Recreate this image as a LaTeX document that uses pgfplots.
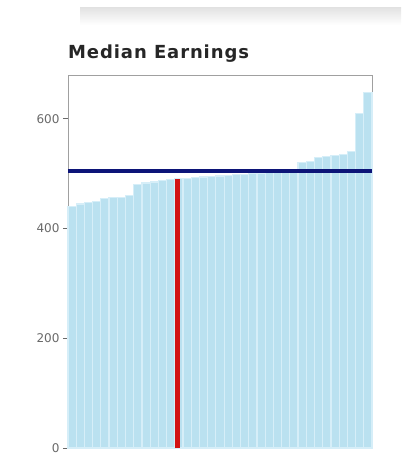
\documentclass[border=0pt]{standalone}
\usepackage{pgfplots}
\pgfplotsset{compat=1.18}
\usepackage{fontspec}
\setmainfont{DejaVu Sans}
\newfontfamily\titlefont[LetterSpace=5]{DejaVu Sans}
\definecolor{barblue}{RGB}{186,225,240}
\definecolor{gapblue}{RGB}{214,238,248}
\definecolor{navyline}{RGB}{12,20,120}
\definecolor{redline}{RGB}{210,18,18}
\definecolor{ticklab}{RGB}{105,105,105}
\definecolor{framegray}{RGB}{160,160,160}
\pgfplotstableread{
x y
0 440
1 445
2 448
3 450
4 455
5 456
6 457
7 460
8 480
9 483
10 485
11 487
12 489
13 491
14 492
15 493
16 494
17 495
18 496
19 497
20 498
21 499
22 500
23 501
24 502
25 503
26 505
27 508
28 520
29 522
30 530
31 532
32 533
33 535
34 540
35 610
36 648
}\bars
\begin{document}
\begin{tikzpicture}
\begin{axis}[
  name=ax,
  scale only axis,
  width=304pt, height=373pt,
  xmin=-0.5, xmax=36.5,
  ymin=0, ymax=680,
  ytick={0,200,400,600},
  ytick pos=left,
  xtick=\empty,
  axis line style={framegray, line width=0.8pt},
  ytick style={ticklab, line width=0.8pt},
  tick align=outside,
  major tick length=5pt,
  yticklabel style={font=\fontsize{12}{14}\selectfont, text=ticklab},
  /pgf/number format/assume math mode=true,
  clip=false,
]
\addplot[ybar, bar width=1, fill=barblue, draw=gapblue, line width=1.2pt] table[x=x,y=y] {\bars};
\addplot[navyline, line width=4.5pt, forget plot] coordinates {(-0.5,505) (36.5,505)};
\addplot[redline, line width=4.5pt, forget plot] coordinates {(12.8,0) (12.8,491)};
\end{axis}
\shade[top color=gray!22, bottom color=white] ([shift={(12pt,67pt)}]ax.north west) rectangle ([shift={(29pt,50pt)}]ax.north east);
\node[anchor=base west, inner sep=0pt, font=\titlefont\bfseries\fontsize{18}{20}\selectfont, text=black!85] at ([shift={(0pt,16pt)}]ax.north west) {Median Earnings};
\pgfresetboundingbox
\path[use as bounding box] ([shift={(-68pt,-6pt)}]ax.south west) rectangle ([shift={(29pt,75pt)}]ax.north east);
\end{tikzpicture}
\end{document}
